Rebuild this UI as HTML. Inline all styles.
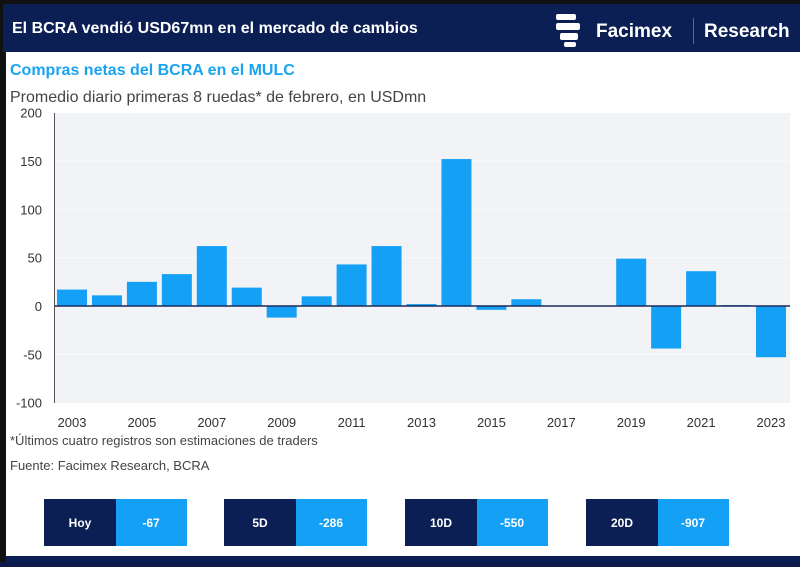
<!DOCTYPE html>
<html><head><meta charset="utf-8">
<style>
body{margin:0;width:800px;height:562px;overflow:hidden;background:#0b1a4a;font-family:"Liberation Sans",sans-serif;}
#frame{position:absolute;left:0;top:0;width:800px;height:562px;}
</style></head>
<body>
<div id="frame">
<svg width="800" height="562" xmlns="http://www.w3.org/2000/svg" id="svg">
<rect x="0" y="0" width="800" height="562" fill="#111"/>
<rect x="3" y="4" width="797" height="48" fill="#0b1f55"/>
<rect x="6" y="52" width="794" height="504" fill="#ffffff"/>
<rect x="6" y="556" width="794" height="6" fill="#0b1f55"/>
<text x="12" y="33" fill="#fff" font-size="16" font-weight="bold">El BCRA vendió USD67mn en el mercado de cambios</text>
<g>
<rect x="556" y="14" width="20" height="6" rx="2" fill="#fff"/>
<rect x="556" y="23" width="24" height="7" rx="2" fill="#fff"/>
<rect x="560" y="33" width="18" height="7" rx="2" fill="#fff"/>
<rect x="564" y="42" width="12" height="5" rx="2" fill="#fff"/>
<text x="596" y="37" fill="#fff" font-size="19" font-weight="bold">Facimex</text>
<rect x="693" y="18" width="1" height="26" fill="#54688f"/>
<text x="704" y="37" fill="#fff" font-size="19" font-weight="bold">Research</text>
</g>
<text x="10" y="75" fill="#1aa3ef" font-size="16" font-weight="bold">Compras netas del BCRA en el MULC</text>
<text x="10" y="102" fill="#444" font-size="16">Promedio diario primeras 8 ruedas* de febrero, en USDmn</text>
<rect x="55" y="113" width="735" height="290" fill="#f1f3f7"/>
<g id="grid"></g>
<g id="bars"></g>
<g id="yticks"></g>
<g id="xticks"></g>
<line x1="54.5" y1="113" x2="54.5" y2="403" stroke="#555" stroke-width="1"/>
<line x1="55" y1="306" x2="790" y2="306" stroke="#1b2b5a" stroke-width="1.5"/>
<text x="10" y="445" fill="#444" font-size="13">*Últimos cuatro registros son estimaciones de traders</text>
<text x="10" y="470" fill="#444" font-size="13">Fuente: Facimex Research, BCRA</text>
<g id="boxes"></g>
</svg>
</div>
<script>
const years=["2003","2004","2005","2006","2007","2008","2009","2010","2011","2012","2013","2014","2015","2016","2017","2018","2019","2020","2021","2022","2023"];
const values=[17,11,25,33,62,19,-12,10,43,62,2,152,-4,7,0,0,49,-44,36,1,-53];
const yTicks=[200,150,100,50,0,-50,-100];
const boxLabels=["Hoy","5D","10D","20D"];
const boxValues=["-67","-286","-550","-907"];
const NS="http://www.w3.org/2000/svg";
function yS(v){return 306-v*0.9667;}
function xS(i){return 72+i*34.95;}
function mk(t,a,p){const e=document.createElementNS(NS,t);for(const k in a)e.setAttribute(k,a[k]);p.appendChild(e);return e;}
const grid=document.getElementById('grid'),bars=document.getElementById('bars'),yt=document.getElementById('yticks'),xt=document.getElementById('xticks'),bx=document.getElementById('boxes');
yTicks.forEach(v=>{
  if(v!==0&&v!==-100&&v!==200){const g=mk('line',{x1:55,x2:790,y1:yS(v),y2:yS(v),stroke:'#fafbfd','stroke-width':1},grid);
  
  }
  const t=mk('text',{x:42,y:yS(v)+5,'text-anchor':'end','font-size':13,fill:'#333'},yt);
  
  
  t.textContent=v;
});
values.forEach((v,i)=>{
  const y=Math.min(yS(v),yS(0)),h=Math.abs(yS(v)-yS(0));
  const r=mk('rect',{x:xS(i)-15,y:y,width:30,height:Math.max(h,0.5),fill:'#14a0f5'},bars);
  
  
  if(i%2===0){const t=mk('text',{x:xS(i),y:427,'text-anchor':'middle','font-size':13,fill:'#333'},xt);
  
  
  t.textContent=years[i];}
});
const bxX=[44,224,405,586];
boxLabels.forEach((l,i)=>{
  const g=mk('g',{},bx);
  
  
  mk('rect',{x:bxX[i],y:499,width:72,height:47,fill:'#0b1f55'},g);
  mk('rect',{x:bxX[i]+72,y:499,width:71,height:47,fill:'#14a0f5'},g);
  const a=mk('text',{x:bxX[i]+36,y:527,'text-anchor':'middle','font-size':12,'font-weight':'bold',fill:'#fff'},g);a.textContent=l;
  const b=mk('text',{x:bxX[i]+107,y:527,'text-anchor':'middle','font-size':12,'font-weight':'bold',fill:'#fff'},g);b.textContent=boxValues[i];
});
</script>
</body></html>
